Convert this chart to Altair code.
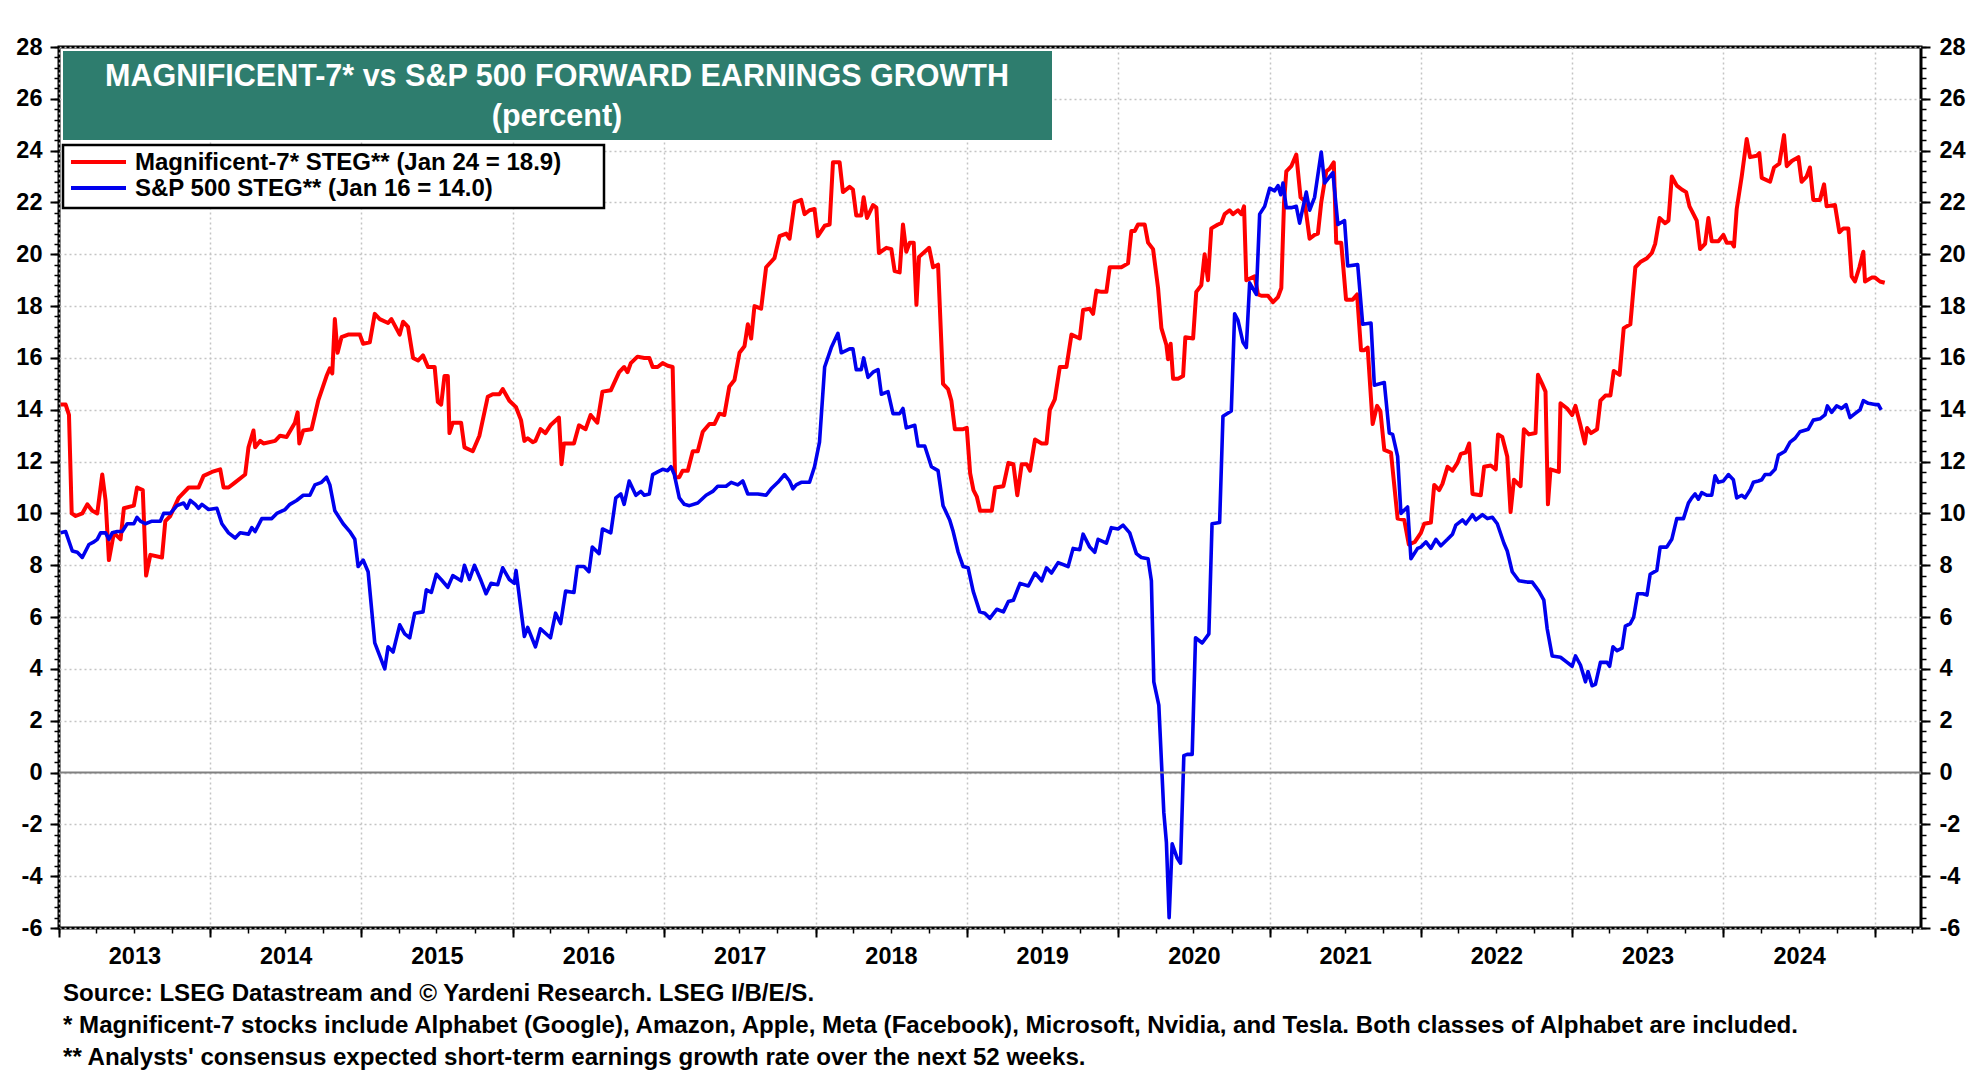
import altair as alt
import pandas as pd

# ---------------- data (decimal year, percent) ----------------
red_t = [2013.011, 2013.044, 2013.066, 2013.084, 2013.110, 2013.154, 2013.187, 2013.220, 2013.253, 2013.286,
         2013.308, 2013.330, 2013.363, 2013.407, 2013.429, 2013.495, 2013.516, 2013.554, 2013.576, 2013.604,
         2013.681, 2013.703, 2013.736, 2013.791, 2013.857, 2013.923, 2013.956, 2014.011, 2014.066, 2014.088,
         2014.121, 2014.165, 2014.231, 2014.253, 2014.286, 2014.297, 2014.330, 2014.352, 2014.429, 2014.462,
         2014.505, 2014.560, 2014.578, 2014.589, 2014.615, 2014.670, 2014.714, 2014.769, 2014.791, 2014.807,
         2014.824, 2014.842, 2014.868, 2014.912, 2014.989, 2015.011, 2015.055, 2015.088, 2015.121, 2015.176,
         2015.198, 2015.253, 2015.275, 2015.308, 2015.341, 2015.374, 2015.407, 2015.440, 2015.484, 2015.505,
         2015.527, 2015.549, 2015.571, 2015.582, 2015.604, 2015.659, 2015.681, 2015.736, 2015.780, 2015.835,
         2015.868, 2015.912, 2015.934, 2015.978, 2016.022, 2016.055, 2016.077, 2016.099, 2016.132, 2016.150,
         2016.183, 2016.216, 2016.249, 2016.305, 2016.322, 2016.338, 2016.404, 2016.437, 2016.481, 2016.514,
         2016.558, 2016.592, 2016.647, 2016.702, 2016.735, 2016.757, 2016.779, 2016.823, 2016.868, 2016.901,
         2016.923, 2016.956, 2016.989, 2017.022, 2017.055, 2017.071, 2017.099, 2017.121, 2017.155, 2017.188,
         2017.221, 2017.254, 2017.298, 2017.331, 2017.364, 2017.397, 2017.430, 2017.464, 2017.497, 2017.530,
         2017.552, 2017.574, 2017.596, 2017.640, 2017.673, 2017.728, 2017.762, 2017.806, 2017.828, 2017.861,
         2017.905, 2017.927, 2017.960, 2017.993, 2018.015, 2018.060, 2018.093, 2018.115, 2018.159, 2018.181,
         2018.225, 2018.247, 2018.269, 2018.302, 2018.318, 2018.340, 2018.380, 2018.402, 2018.419, 2018.468,
         2018.501, 2018.523, 2018.556, 2018.578, 2018.600, 2018.623, 2018.649, 2018.667, 2018.684, 2018.722,
         2018.751, 2018.777, 2018.810, 2018.843, 2018.876, 2018.898, 2018.921, 2018.976, 2019.000, 2019.022,
         2019.044, 2019.066, 2019.088, 2019.165, 2019.187, 2019.242, 2019.275, 2019.308, 2019.334, 2019.363,
         2019.396, 2019.418, 2019.451, 2019.495, 2019.527, 2019.549, 2019.582, 2019.615, 2019.659, 2019.692,
         2019.747, 2019.769, 2019.813, 2019.835, 2019.857, 2019.890, 2019.923, 2019.945, 2020.022, 2020.066,
         2020.088, 2020.110, 2020.132, 2020.176, 2020.198, 2020.231, 2020.264, 2020.286, 2020.319, 2020.330,
         2020.347, 2020.363, 2020.396, 2020.429, 2020.444, 2020.495, 2020.516, 2020.549, 2020.571, 2020.593,
         2020.615, 2020.659, 2020.681, 2020.703, 2020.736, 2020.758, 2020.791, 2020.813, 2020.831, 2020.846,
         2020.901, 2020.923, 2020.945, 2020.989, 2021.022, 2021.055, 2021.077, 2021.095, 2021.110, 2021.143,
         2021.176, 2021.204, 2021.231, 2021.264, 2021.297, 2021.319, 2021.341, 2021.374, 2021.396, 2021.424,
         2021.440, 2021.473, 2021.505, 2021.549, 2021.578, 2021.604, 2021.626, 2021.648, 2021.681, 2021.710,
         2021.732, 2021.758, 2021.802, 2021.846, 2021.890, 2021.920, 2021.960, 2022.000, 2022.022, 2022.066,
         2022.088, 2022.121, 2022.143, 2022.176, 2022.209, 2022.242, 2022.264, 2022.297, 2022.319, 2022.341,
         2022.396, 2022.418, 2022.462, 2022.495, 2022.510, 2022.538, 2022.571, 2022.593, 2022.615, 2022.659,
         2022.681, 2022.714, 2022.758, 2022.774, 2022.802, 2022.824, 2022.840, 2022.857, 2022.912, 2022.923,
         2022.967, 2023.000, 2023.022, 2023.055, 2023.084, 2023.099, 2023.125, 2023.165, 2023.187, 2023.220,
         2023.253, 2023.275, 2023.314, 2023.341, 2023.385, 2023.418, 2023.451, 2023.495, 2023.527, 2023.549,
         2023.578, 2023.615, 2023.637, 2023.659, 2023.692, 2023.725, 2023.754, 2023.776, 2023.798, 2023.824,
         2023.846, 2023.879, 2023.901, 2023.923, 2023.967, 2024.000, 2024.022, 2024.055, 2024.070, 2024.088,
         2024.121, 2024.154, 2024.176, 2024.220, 2024.237, 2024.253, 2024.308, 2024.334, 2024.369, 2024.400,
         2024.418, 2024.451, 2024.495, 2024.516, 2024.549, 2024.571, 2024.593, 2024.637, 2024.664, 2024.681,
         2024.736, 2024.765, 2024.791, 2024.824, 2024.846, 2024.868, 2024.897, 2024.923, 2024.934, 2024.978,
         2025.000, 2025.033, 2025.064]
red_v = [14.2, 14.2, 13.8, 10.0, 9.9, 10.0, 10.35, 10.1, 10.0, 11.5,
         10.5, 8.2, 9.25, 9.0, 10.2, 10.3, 11.0, 10.9, 7.6, 8.4,
         8.3, 9.7, 9.9, 10.6, 11.0, 11.0, 11.45, 11.6, 11.7, 11.0,
         11.0, 11.2, 11.5, 12.55, 13.2, 12.55, 12.8, 12.7, 12.8, 13.0,
         12.95, 13.5, 13.9, 12.7, 13.2, 13.25, 14.35, 15.3, 15.6, 15.4,
         17.5, 16.2, 16.8, 16.9, 16.9, 16.55, 16.6, 17.7, 17.5, 17.35,
         17.5, 16.9, 17.4, 17.2, 16.0, 15.9, 16.1, 15.65, 15.65, 14.3,
         14.2, 15.3, 15.3, 13.1, 13.5, 13.5, 12.55, 12.4, 13.0, 14.5,
         14.6, 14.6, 14.8, 14.35, 14.1, 13.6, 12.8, 12.9, 12.75, 12.8,
         13.25, 13.1, 13.4, 13.7, 11.9, 12.7, 12.7, 13.4, 13.25, 13.8,
         13.5, 14.7, 14.75, 15.45, 15.65, 15.45, 15.8, 16.05, 16.0, 16.0,
         15.65, 15.65, 15.8, 15.7, 15.65, 11.4, 11.4, 11.65, 11.65, 12.4,
         12.4, 13.15, 13.45, 13.45, 13.85, 13.8, 14.9, 15.15, 16.2, 16.45,
         17.3, 16.75, 18.0, 17.9, 19.5, 19.85, 20.7, 20.8, 20.6, 22.0,
         22.1, 21.55, 21.7, 21.75, 20.7, 21.1, 21.15, 23.55, 23.55, 22.4,
         22.6, 22.5, 21.5, 21.5, 22.2, 21.4, 21.9, 21.8, 20.05, 20.25,
         20.2, 19.35, 19.3, 21.15, 20.1, 20.45, 20.45, 18.05, 19.9, 20.1,
         20.25, 19.5, 19.6, 15.0, 14.8, 14.35, 13.25, 13.25, 13.3, 11.55,
         10.9, 10.65, 10.1, 10.1, 11.0, 11.05, 11.95, 11.9, 10.7, 11.9,
         11.9, 11.65, 12.85, 12.7, 12.7, 14.0, 14.4, 15.65, 15.65, 16.9,
         16.75, 17.85, 17.9, 17.7, 18.6, 18.55, 18.55, 19.5, 19.5, 19.65,
         20.9, 20.9, 21.15, 21.15, 20.45, 20.2, 18.7, 17.15, 16.5, 15.95,
         16.55, 15.2, 15.2, 15.3, 16.8, 16.75, 18.55, 18.8, 20.0, 19.0,
         21.0, 21.15, 21.2, 21.55, 21.7, 21.55, 21.7, 21.55, 21.85, 19.0,
         19.15, 18.45, 18.4, 18.4, 18.15, 18.35, 18.7, 22.0, 23.2, 23.4,
         23.85, 22.2, 22.05, 20.6, 20.75, 20.8, 22.0, 23.2, 23.3, 23.55,
         20.45, 20.45, 18.25, 18.25, 18.45, 16.3, 16.3, 16.4, 13.45, 14.15,
         13.95, 12.45, 12.35, 9.8, 9.75, 8.8, 8.9, 9.25, 9.6, 9.65,
         11.1, 10.9, 11.15, 11.8, 11.65, 11.95, 12.3, 12.35, 12.7, 10.75,
         10.7, 11.8, 11.85, 11.7, 13.05, 12.95, 12.2, 10.05, 11.3, 11.05,
         13.25, 13.05, 13.1, 15.35, 15.0, 14.7, 10.35, 11.7, 11.6, 14.25,
         14.05, 13.8, 14.15, 13.4, 12.7, 13.3, 13.1, 13.25, 14.35, 14.55,
         14.55, 15.5, 15.35, 17.15, 17.3, 19.5, 19.7, 19.85, 20.05, 20.4,
         21.4, 21.2, 21.3, 23.0, 22.65, 22.5, 22.4, 21.85, 21.6, 21.3,
         20.2, 20.4, 21.4, 20.5, 20.5, 20.75, 20.45, 20.45, 20.3, 21.75,
         23.0, 24.45, 23.75, 23.8, 23.9, 22.95, 22.8, 23.35, 23.5, 24.6,
         23.4, 23.6, 23.75, 22.8, 23.0, 23.35, 22.1, 22.1, 22.7, 21.85,
         21.9, 20.85, 21.0, 21.0, 19.15, 18.95, 19.5, 20.1, 18.95, 19.1,
         19.1, 18.95, 18.9]

blue_t = [2013.011, 2013.044, 2013.088, 2013.121, 2013.154, 2013.198, 2013.231, 2013.253, 2013.275, 2013.308,
          2013.330, 2013.352, 2013.385, 2013.418, 2013.451, 2013.495, 2013.516, 2013.538, 2013.571, 2013.615,
          2013.670, 2013.692, 2013.736, 2013.780, 2013.824, 2013.846, 2013.868, 2013.901, 2013.923, 2013.945,
          2013.989, 2014.044, 2014.077, 2014.121, 2014.165, 2014.198, 2014.253, 2014.275, 2014.297, 2014.341,
          2014.407, 2014.440, 2014.495, 2014.527, 2014.571, 2014.615, 2014.659, 2014.692, 2014.736, 2014.769,
          2014.791, 2014.824, 2014.879, 2014.923, 2014.956, 2014.978, 2015.011, 2015.044, 2015.088, 2015.121,
          2015.154, 2015.176, 2015.209, 2015.253, 2015.286, 2015.319, 2015.352, 2015.407, 2015.429, 2015.462,
          2015.495, 2015.527, 2015.571, 2015.604, 2015.659, 2015.681, 2015.714, 2015.747, 2015.791, 2015.824,
          2015.857, 2015.901, 2015.934, 2015.978, 2016.011, 2016.022, 2016.077, 2016.099, 2016.150, 2016.183,
          2016.249, 2016.283, 2016.316, 2016.349, 2016.404, 2016.426, 2016.470, 2016.503, 2016.525, 2016.570,
          2016.592, 2016.647, 2016.680, 2016.713, 2016.735, 2016.768, 2016.812, 2016.845, 2016.868, 2016.901,
          2016.923, 2016.956, 2016.989, 2017.022, 2017.044, 2017.066, 2017.099, 2017.132, 2017.166, 2017.221,
          2017.276, 2017.320, 2017.353, 2017.408, 2017.442, 2017.486, 2017.519, 2017.552, 2017.618, 2017.673,
          2017.706, 2017.751, 2017.795, 2017.828, 2017.850, 2017.872, 2017.905, 2017.960, 2017.993, 2018.026,
          2018.060, 2018.104, 2018.148, 2018.170, 2018.225, 2018.247, 2018.269, 2018.302, 2018.318, 2018.347,
          2018.380, 2018.413, 2018.435, 2018.479, 2018.512, 2018.556, 2018.578, 2018.600, 2018.656, 2018.678,
          2018.722, 2018.766, 2018.810, 2018.843, 2018.887, 2018.910, 2018.943, 2018.976, 2019.009, 2019.042,
          2019.086, 2019.119, 2019.152, 2019.198, 2019.242, 2019.275, 2019.308, 2019.352, 2019.407, 2019.451,
          2019.495, 2019.527, 2019.560, 2019.604, 2019.670, 2019.703, 2019.747, 2019.769, 2019.813, 2019.846,
          2019.868, 2019.923, 2019.956, 2020.000, 2020.033, 2020.077, 2020.121, 2020.154, 2020.198, 2020.220,
          2020.236, 2020.269, 2020.302, 2020.319, 2020.337, 2020.357, 2020.390, 2020.412, 2020.434, 2020.456,
          2020.489, 2020.511, 2020.555, 2020.599, 2020.620, 2020.670, 2020.692, 2020.747, 2020.769, 2020.791,
          2020.824, 2020.846, 2020.868, 2020.912, 2020.934, 2020.967, 2021.000, 2021.033, 2021.055, 2021.073,
          2021.088, 2021.110, 2021.143, 2021.176, 2021.198, 2021.242, 2021.264, 2021.297, 2021.341, 2021.363,
          2021.418, 2021.451, 2021.495, 2021.516, 2021.582, 2021.615, 2021.670, 2021.692, 2021.758, 2021.791,
          2021.813, 2021.846, 2021.868, 2021.912, 2021.934, 2021.978, 2022.000, 2022.033, 2022.066, 2022.099,
          2022.132, 2022.176, 2022.209, 2022.231, 2022.275, 2022.297, 2022.341, 2022.363, 2022.407, 2022.440,
          2022.473, 2022.505, 2022.549, 2022.571, 2022.604, 2022.648, 2022.703, 2022.736, 2022.780, 2022.813,
          2022.835, 2022.868, 2022.923, 2022.967, 2023.000, 2023.022, 2023.055, 2023.088, 2023.105, 2023.132,
          2023.154, 2023.187, 2023.231, 2023.248, 2023.270, 2023.297, 2023.330, 2023.352, 2023.385, 2023.407,
          2023.433, 2023.468, 2023.495, 2023.516, 2023.560, 2023.582, 2023.626, 2023.659, 2023.692, 2023.736,
          2023.769, 2023.791, 2023.813, 2023.835, 2023.857, 2023.890, 2023.923, 2023.945, 2023.967, 2024.000,
          2024.033, 2024.066, 2024.088, 2024.121, 2024.143, 2024.176, 2024.198, 2024.231, 2024.253, 2024.275,
          2024.308, 2024.341, 2024.363, 2024.407, 2024.440, 2024.473, 2024.505, 2024.560, 2024.593, 2024.637,
          2024.670, 2024.686, 2024.714, 2024.747, 2024.780, 2024.809, 2024.835, 2024.868, 2024.901, 2024.923,
          2024.956, 2025.000, 2025.022, 2025.041]
blue_v = [9.25, 9.3, 8.55, 8.5, 8.3, 8.8, 8.9, 9.0, 9.25, 9.25,
          9.0, 9.25, 9.3, 9.3, 9.6, 9.6, 9.85, 9.7, 9.6, 9.7,
          9.7, 10.0, 10.0, 10.3, 10.4, 10.2, 10.5, 10.35, 10.2, 10.35,
          10.15, 10.2, 9.6, 9.25, 9.05, 9.25, 9.2, 9.45, 9.3, 9.8,
          9.8, 10.0, 10.15, 10.35, 10.5, 10.7, 10.7, 11.1, 11.2, 11.4,
          11.1, 10.1, 9.6, 9.3, 9.0, 7.95, 8.2, 7.75, 5.0, 4.5,
          4.0, 4.85, 4.65, 5.7, 5.35, 5.2, 6.15, 6.2, 7.05, 6.95,
          7.65, 7.45, 7.15, 7.6, 7.4, 8.0, 7.45, 8.0, 7.4, 6.9,
          7.3, 7.25, 7.9, 7.45, 7.3, 7.8, 5.25, 5.6, 4.85, 5.55,
          5.2, 6.15, 5.75, 7.0, 6.95, 7.95, 7.95, 7.75, 8.7, 8.45,
          9.4, 9.25, 10.6, 10.75, 10.35, 11.25, 10.7, 10.85, 10.7, 10.75,
          11.5, 11.6, 11.7, 11.65, 11.8, 11.5, 10.6, 10.35, 10.3, 10.4,
          10.7, 10.85, 11.05, 11.05, 11.2, 11.1, 11.25, 10.75, 10.75, 10.7,
          10.95, 11.2, 11.5, 11.25, 10.95, 11.1, 11.2, 11.2, 11.8, 12.75,
          15.65, 16.4, 16.95, 16.2, 16.35, 16.35, 15.55, 15.55, 16.0, 15.25,
          15.45, 15.55, 14.6, 14.7, 13.85, 13.85, 14.05, 13.3, 13.4, 12.6,
          12.6, 11.8, 11.65, 10.3, 9.75, 9.3, 8.5, 7.95, 7.9, 7.0,
          6.2, 6.15, 5.95, 6.3, 6.2, 6.6, 6.65, 7.3, 7.2, 7.7,
          7.4, 7.9, 7.7, 8.1, 7.95, 8.65, 8.6, 9.2, 8.7, 8.5,
          9.0, 8.85, 9.45, 9.4, 9.55, 9.25, 8.45, 8.3, 8.25, 7.4,
          3.5, 2.6, -1.55, -2.7, -5.6, -2.75, -3.3, -3.5, 0.65, 0.7,
          0.7, 5.2, 5.0, 5.35, 9.6, 9.65, 13.75, 13.95, 17.7, 17.45,
          16.6, 16.4, 18.9, 18.45, 21.55, 21.85, 22.55, 22.45, 22.65, 22.3,
          22.75, 21.8, 21.8, 21.85, 21.2, 22.4, 21.7, 22.2, 23.95, 22.75,
          23.15, 21.15, 21.3, 19.55, 19.6, 17.3, 17.35, 14.95, 15.05, 13.1,
          13.05, 12.2, 10.0, 10.25, 8.25, 8.65, 8.7, 8.9, 8.65, 9.0,
          8.75, 9.0, 9.2, 9.55, 9.75, 9.6, 9.95, 9.75, 9.95, 9.8,
          9.85, 9.6, 8.85, 8.55, 7.75, 7.4, 7.35, 7.35, 7.0, 6.65,
          5.55, 4.5, 4.45, 4.25, 4.1, 4.5, 4.15, 3.5, 3.9, 3.35,
          3.4, 4.25, 4.25, 4.1, 4.85, 4.7, 4.8, 5.65, 5.75, 6.0,
          6.9, 6.9, 6.85, 7.65, 7.8, 8.7, 8.7, 9.0, 9.8, 9.8,
          10.4, 10.6, 10.75, 10.55, 10.8, 10.7, 10.7, 11.45, 11.2, 11.25,
          11.5, 11.3, 10.6, 10.7, 10.6, 10.9, 11.2, 11.25, 11.3, 11.5,
          11.5, 11.7, 12.25, 12.4, 12.75, 12.9, 13.15, 13.25, 13.6, 13.65,
          13.8, 14.15, 13.9, 14.15, 14.05, 14.2, 13.7, 13.85, 14.0, 14.35,
          14.25, 14.2, 14.2, 14.0]

title_lines = ["MAGNIFICENT-7* vs S&P 500 FORWARD EARNINGS GROWTH", "(percent)"]
legend_labels = ["Magnificent-7* STEG** (Jan 24 = 18.9)", "S&P 500 STEG** (Jan 16 = 14.0)"]
footnotes = [
    "Source: LSEG Datastream and \u00a9 Yardeni Research. LSEG I/B/E/S.",
    "* Magnificent-7 stocks include Alphabet (Google), Amazon, Apple, Meta (Facebook), Microsoft, Nvidia, and Tesla. Both classes of Alphabet are included.",
    "** Analysts' consensus expected short-term earnings growth rate over the next 52 weeks.",
]
years = list(range(2013, 2026))
y_major = list(range(-6, 29, 2))


def to_date(t):
    yr = int(t)
    start = pd.Timestamp(year=yr, month=1, day=1)
    end = pd.Timestamp(year=yr + 1, month=1, day=1)
    return start + (end - start) * (t - yr)


red = pd.DataFrame({"date": [to_date(t) for t in red_t], "value": red_v})
blue = pd.DataFrame({"date": [to_date(t) for t in blue_t], "value": blue_v})

# ---------------- styling ----------------
FONT = "Liberation Sans"
RED = "#ff0000"
BLUE = "#0000ee"
TEAL = "#2e7d6e"
W, H = 1862, 881

xscale = alt.Scale(domain=[alt.DateTime(year=2013, month=1, date=1),
                           alt.DateTime(year=2025, month=4, date=22)])
yscale = alt.Scale(domain=[-6, 28], nice=False, zero=False)

year_vals = [alt.DateTime(year=y, month=1, date=1) for y in years]
mid_vals = [alt.DateTime(year=y, month=7, date=2) for y in years[:-1]]
quarter_vals = [alt.DateTime(year=y, month=m, date=1) for y in years for m in (1, 4, 7, 10)]
y_minor = [round(-6 + 0.4 * i, 1) for i in range(86)]

lab = dict(labelFont=FONT, labelFontSize=23.5, labelFontWeight="bold", labelColor="black",
           labelFlush=False, labelOverlap=False, title=None, domain=False)

red_line = alt.Chart(red).mark_line(color=RED, strokeWidth=4, strokeJoin="round").encode(
    x=alt.X("date:T", scale=xscale, axis=alt.Axis(
        orient="bottom", values=mid_vals, format="%Y", ticks=False, tickSize=0, grid=False,
        labelPadding=28, labelBaseline="middle", labelAlign="center", **lab)),
    y=alt.Y("value:Q", scale=yscale, axis=alt.Axis(
        orient="left", values=y_major, ticks=True, tickSize=9, tickWidth=2, tickColor="black",
        grid=True, gridColor="#c4c4c4", gridDash=[2, 3], gridWidth=1.5,
        labelExpr="toString(datum.value)",
        labelPadding=8, labelBaseline="middle", **lab)),
)

blue_line = alt.Chart(blue).mark_line(color=BLUE, strokeWidth=3.6, strokeJoin="round").encode(
    x=alt.X("date:T", scale=xscale, axis=alt.Axis(
        orient="bottom", values=year_vals, labels=False, ticks=True, tickSize=9, tickWidth=2,
        tickColor="black", grid=True, gridColor="#c4c4c4", gridDash=[2, 3], gridWidth=1.5,
        title=None, domain=False)),
    y=alt.Y("value:Q", scale=yscale, axis=alt.Axis(
        orient="right", values=y_major, ticks=True, tickSize=9, tickWidth=2, tickColor="black",
        grid=False, labelExpr="toString(datum.value)",
        labelPadding=9, labelBaseline="middle", **lab)),
)

minor_a = alt.Chart(blue).mark_line(opacity=0).encode(
    x=alt.X("date:T", scale=xscale, axis=alt.Axis(
        orient="bottom", values=quarter_vals, labels=False, ticks=True, tickSize=5, tickWidth=1.5,
        tickColor="black", grid=False, title=None, domain=False)),
    y=alt.Y("value:Q", scale=yscale, axis=alt.Axis(
        orient="left", values=y_minor, labels=False, ticks=True, tickSize=5, tickWidth=1.5,
        tickColor="black", grid=False, title=None, domain=False)),
)

minor_b = alt.Chart(blue).mark_line(opacity=0).encode(
    x=alt.X("date:T", scale=xscale, axis=None),
    y=alt.Y("value:Q", scale=yscale, axis=alt.Axis(
        orient="right", values=y_minor, labels=False, ticks=True, tickSize=5, tickWidth=1.5,
        tickColor="black", grid=False, title=None, domain=False)),
)

zero_rule = alt.Chart(pd.DataFrame({"v": [0]})).mark_rule(color="#808080", strokeWidth=2).encode(
    y=alt.Y("v:Q", scale=yscale, axis=None)
)

one = pd.DataFrame({"k": [0]})

title_box = alt.Chart(one).mark_rect(color=TEAL).encode(
    x=alt.value(4), x2=alt.value(993), y=alt.value(4), y2=alt.value(93))
title_t1 = alt.Chart(one).mark_text(text=title_lines[0], font=FONT, fontSize=30.5, fontWeight="bold",
                                    color="white", align="center", baseline="middle").encode(
    x=alt.value(498), y=alt.value(30))
title_t2 = alt.Chart(one).mark_text(text=title_lines[1], font=FONT, fontSize=30.5, fontWeight="bold",
                                    color="white", align="center", baseline="middle").encode(
    x=alt.value(498), y=alt.value(70))

legend_box = alt.Chart(one).mark_rect(fill="white", stroke="black", strokeWidth=2.5).encode(
    x=alt.value(4), x2=alt.value(545), y=alt.value(98), y2=alt.value(161))
leg_red = alt.Chart(one).mark_rule(color=RED, strokeWidth=4).encode(
    x=alt.value(12), x2=alt.value(67), y=alt.value(115))
leg_blue = alt.Chart(one).mark_rule(color=BLUE, strokeWidth=4).encode(
    x=alt.value(12), x2=alt.value(67), y=alt.value(141))
leg_t1 = alt.Chart(one).mark_text(text=legend_labels[0], font=FONT, fontSize=24, fontWeight="bold",
                                  color="black", align="left", baseline="middle").encode(
    x=alt.value(76), y=alt.value(116))
leg_t2 = alt.Chart(one).mark_text(text=legend_labels[1], font=FONT, fontSize=24, fontWeight="bold",
                                  color="black", align="left", baseline="middle").encode(
    x=alt.value(76), y=alt.value(142))

foot_layers = []
for i, txt in enumerate(footnotes):
    foot_layers.append(
        alt.Chart(one).mark_text(text=txt, font=FONT, fontSize=24.1, fontWeight="bold", color="black",
                                 align="left", baseline="middle").encode(
            x=alt.value(4), y=alt.value(947 + 32 * i))
    )

chart = alt.layer(
    red_line, blue_line, minor_a, minor_b, zero_rule,
    title_box, title_t1, title_t2,
    legend_box, leg_red, leg_blue, leg_t1, leg_t2,
    *foot_layers,
).resolve_axis(x="independent", y="independent").properties(
    width=W, height=H,
    autosize=alt.AutoSizeParams(type="none"),
    padding={"left": 51, "top": 39, "right": 51, "bottom": 144},
    background="white",
).configure_view(stroke="black", strokeWidth=3)

chart.save("out.html", embed_options={"renderer": "svg", "actions": False})
